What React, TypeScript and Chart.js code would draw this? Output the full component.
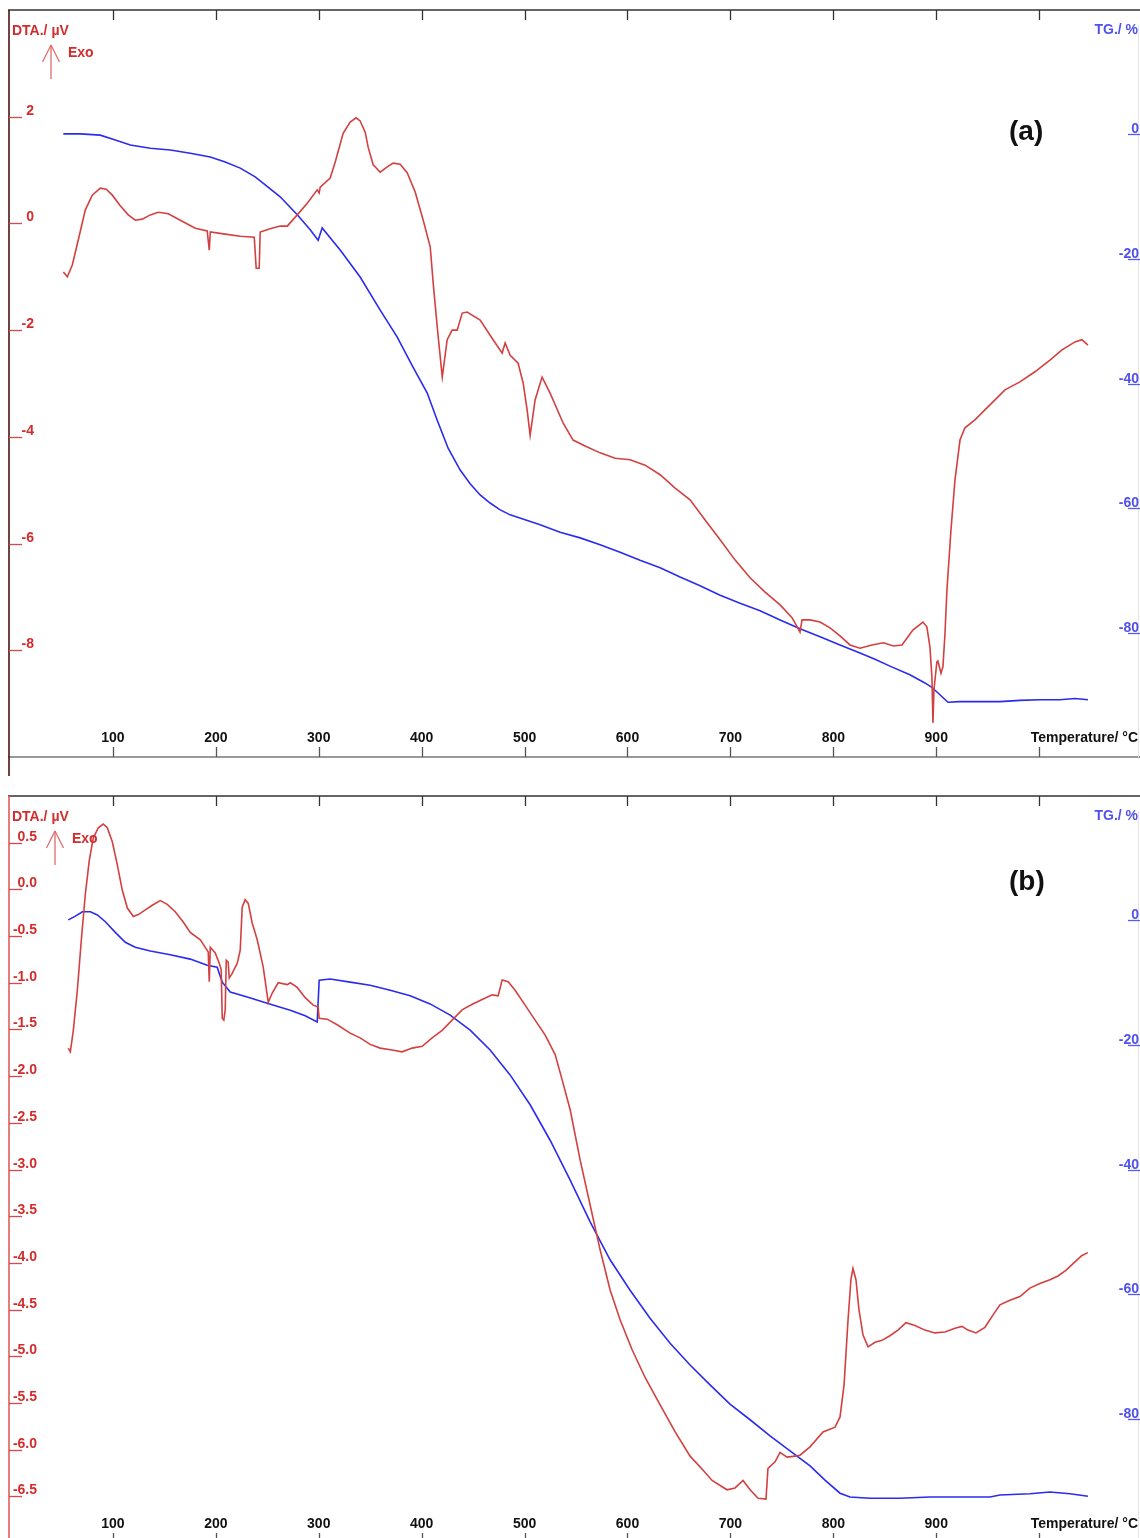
import React, { useEffect, useRef } from "react";
import { Chart, registerables } from "chart.js";

Chart.register(...registerables);

// ---------- tick labels ----------
const tempTicks = [100, 200, 300, 400, 500, 600, 700, 800, 900, 1000];
const dtaTicksA = [2, 0, -2, -4, -6, -8];
const dtaTicksB = [0.5, 0, -0.5, -1, -1.5, -2, -2.5, -3, -3.5, -4, -4.5, -5, -5.5, -6, -6.5];
const tgTicks = [0, -20, -40, -60, -80];

// ---------- panel (a) ----------
const dtaTempA = [51.8, 55.7, 60.5, 66.3, 73.1, 79.9, 87.7, 93.5, 99.4, 107.1, 114.9, 121.7, 128.5, 136.3, 144.1, 153.8, 165.4, 180.0, 191.6, 193.6, 194.6, 209.1, 223.7, 237.3, 239.2, 242.1, 243.1, 252.8, 262.5, 269.4, 279.1, 288.8, 298.5, 300.4, 301.4, 311.1, 316.0, 323.7, 330.5, 336.3, 340.2, 345.1, 348.0, 352.9, 359.7, 366.5, 372.3, 379.1, 385.9, 393.7, 401.5, 408.3, 411.2, 415.1, 420.0, 424.8, 429.6, 434.5, 439.4, 444.2, 456.8, 469.4, 478.2, 481.1, 486.0, 493.7, 498.6, 502.5, 505.4, 510.2, 517.0, 524.8, 537.4, 547.1, 558.8, 573.4, 588.0, 602.5, 617.1, 631.7, 646.3, 660.8, 675.4, 690.0, 704.6, 719.1, 733.7, 748.3, 759.9, 767.6, 769.6, 777.4, 787.1, 796.8, 806.5, 816.2, 825.9, 837.6, 848.8, 858.3, 866.7, 877.3, 887.1, 890.9, 893.9, 895.8, 896.8, 897.8, 900.6, 901.6, 904.6, 906.5, 908.5, 910.4, 914.3, 918.2, 923.1, 927.9, 937.6, 952.2, 966.8, 981.3, 995.9, 1010.5, 1022.2, 1034.8, 1041.6, 1047.4];
const dtaA = [-0.91, -1.00, -0.78, -0.31, 0.25, 0.53, 0.66, 0.64, 0.53, 0.33, 0.16, 0.06, 0.08, 0.16, 0.21, 0.18, 0.06, -0.09, -0.14, -0.50, -0.16, -0.20, -0.24, -0.26, -0.84, -0.84, -0.16, -0.10, -0.05, -0.05, 0.16, 0.38, 0.63, 0.57, 0.68, 0.85, 1.15, 1.69, 1.90, 1.98, 1.92, 1.71, 1.43, 1.10, 0.96, 1.06, 1.13, 1.11, 0.95, 0.59, 0.06, -0.44, -1.12, -1.94, -2.88, -2.18, -2.00, -2.00, -1.68, -1.66, -1.81, -2.18, -2.43, -2.24, -2.47, -2.62, -2.99, -3.50, -3.97, -3.31, -2.88, -3.18, -3.74, -4.06, -4.17, -4.30, -4.40, -4.43, -4.53, -4.71, -4.96, -5.18, -5.56, -5.93, -6.31, -6.64, -6.91, -7.15, -7.39, -7.66, -7.43, -7.43, -7.47, -7.58, -7.73, -7.90, -7.96, -7.90, -7.86, -7.92, -7.90, -7.62, -7.47, -7.56, -7.94, -8.50, -9.36, -8.74, -8.22, -8.20, -8.43, -8.31, -7.68, -6.87, -5.75, -4.81, -4.06, -3.83, -3.68, -3.40, -3.12, -2.97, -2.78, -2.56, -2.37, -2.22, -2.18, -2.28];
const tgTempA = [51.8, 68.3, 87.7, 102.3, 116.9, 136.3, 155.7, 175.2, 194.6, 209.1, 223.7, 238.2, 248.0, 262.5, 279.1, 291.7, 299.4, 303.3, 321.0, 340.2, 359.7, 376.1, 391.7, 405.3, 415.1, 425.7, 437.4, 447.1, 456.8, 466.5, 476.3, 486.0, 500.5, 515.1, 534.5, 554.0, 573.4, 592.8, 612.2, 631.7, 651.1, 670.5, 690.0, 709.4, 728.8, 748.3, 767.6, 787.1, 806.5, 825.9, 840.5, 855.0, 874.4, 889.0, 895.8, 903.6, 911.4, 923.1, 942.5, 961.9, 981.3, 1000.7, 1020.2, 1034.8, 1047.4];
const tgA = [0.1, 0.1, -0.1, -0.9, -1.7, -2.2, -2.5, -3.0, -3.6, -4.4, -5.4, -6.8, -8.1, -10.0, -12.9, -15.3, -17.0, -15.0, -18.6, -22.9, -28.2, -32.5, -37.4, -41.5, -45.9, -50.4, -53.9, -56.1, -57.9, -59.2, -60.3, -61.1, -61.9, -62.7, -63.9, -64.8, -65.9, -67.1, -68.4, -69.6, -71.1, -72.5, -74.0, -75.3, -76.5, -78.0, -79.4, -80.7, -82.0, -83.3, -84.3, -85.4, -86.8, -88.1, -88.8, -90.0, -91.2, -91.1, -91.1, -91.1, -90.9, -90.8, -90.8, -90.6, -90.8];

// ---------- panel (b) ----------
const dtaTempB = [56.6, 58.6, 61.5, 65.4, 69.3, 73.1, 77.0, 80.9, 85.8, 90.6, 94.5, 99.4, 104.3, 109.1, 114.0, 119.8, 124.6, 131.5, 138.2, 146.0, 152.8, 160.5, 168.3, 175.1, 184.9, 192.6, 193.6, 194.6, 199.4, 203.3, 205.2, 206.2, 207.7, 209.1, 210.1, 212.0, 213.0, 215.9, 220.8, 223.7, 225.6, 228.5, 231.5, 235.3, 240.2, 246.0, 250.9, 254.8, 260.6, 269.4, 272.3, 279.1, 286.8, 294.6, 299.4, 300.4, 308.2, 317.9, 330.5, 340.2, 349.9, 359.7, 371.3, 381.0, 390.7, 400.5, 410.2, 419.9, 429.6, 439.3, 449.1, 458.8, 468.5, 474.3, 478.2, 484.0, 490.8, 500.5, 510.2, 520.0, 529.7, 536.5, 544.3, 554.0, 563.7, 573.4, 583.1, 592.8, 604.5, 617.2, 631.7, 646.3, 660.8, 673.5, 682.2, 696.7, 704.5, 712.3, 719.1, 726.9, 734.6, 736.5, 743.4, 748.2, 755.0, 762.8, 767.6, 777.4, 790.0, 801.7, 806.5, 810.4, 814.3, 817.1, 819.1, 822.0, 824.9, 828.8, 833.7, 840.5, 847.3, 855.0, 862.8, 870.6, 879.3, 889.0, 898.7, 908.5, 918.2, 925.0, 930.8, 938.6, 947.3, 955.1, 961.9, 971.6, 981.3, 991.0, 1000.7, 1010.5, 1018.3, 1026.0, 1034.8, 1041.6, 1047.4];
const dtaB = [-1.70, -1.74, -1.51, -1.08, -0.54, -0.06, 0.31, 0.55, 0.66, 0.70, 0.66, 0.51, 0.26, -0.01, -0.20, -0.29, -0.27, -0.22, -0.17, -0.12, -0.16, -0.24, -0.35, -0.46, -0.54, -0.67, -0.99, -0.62, -0.68, -0.79, -0.86, -1.38, -1.40, -1.29, -0.76, -0.78, -0.95, -0.90, -0.79, -0.65, -0.19, -0.11, -0.15, -0.36, -0.54, -0.83, -1.21, -1.11, -1.00, -1.02, -1.00, -1.05, -1.16, -1.24, -1.26, -1.38, -1.39, -1.45, -1.54, -1.59, -1.66, -1.70, -1.72, -1.74, -1.70, -1.68, -1.59, -1.51, -1.40, -1.29, -1.23, -1.18, -1.13, -1.14, -0.97, -0.99, -1.08, -1.24, -1.40, -1.56, -1.77, -2.04, -2.36, -2.90, -3.38, -3.86, -4.29, -4.61, -4.93, -5.23, -5.52, -5.81, -6.07, -6.22, -6.33, -6.43, -6.41, -6.33, -6.43, -6.52, -6.53, -6.20, -6.13, -6.03, -6.08, -6.07, -6.06, -5.97, -5.81, -5.76, -5.65, -5.31, -4.61, -4.18, -4.06, -4.18, -4.50, -4.77, -4.90, -4.85, -4.83, -4.78, -4.72, -4.64, -4.67, -4.72, -4.75, -4.74, -4.70, -4.68, -4.72, -4.75, -4.69, -4.56, -4.45, -4.40, -4.36, -4.27, -4.22, -4.18, -4.14, -4.08, -3.99, -3.92, -3.89];
const tgTempB = [56.6, 63.5, 70.3, 78.1, 84.9, 92.6, 102.3, 112.0, 121.7, 136.3, 155.7, 175.1, 191.6, 201.3, 206.2, 214.0, 230.5, 249.9, 272.3, 286.8, 298.5, 300.4, 311.1, 330.5, 349.9, 369.4, 388.8, 408.2, 427.7, 447.1, 466.5, 485.9, 505.4, 524.8, 544.3, 563.7, 583.1, 602.5, 621.9, 641.4, 660.8, 680.2, 699.6, 719.1, 738.5, 757.9, 777.4, 791.9, 806.5, 816.2, 835.6, 864.7, 893.9, 923.0, 952.2, 961.9, 991.0, 1010.5, 1029.9, 1047.4];
const tgB = [0.1, 0.7, 1.4, 1.4, 0.9, -0.2, -1.9, -3.5, -4.3, -4.9, -5.5, -6.2, -7.2, -7.5, -9.9, -11.5, -12.3, -13.3, -14.4, -15.3, -16.3, -9.6, -9.4, -9.9, -10.4, -11.2, -12.1, -13.4, -15.2, -17.6, -20.8, -24.8, -29.6, -35.3, -41.7, -48.4, -54.5, -59.4, -63.9, -67.9, -71.4, -74.6, -77.7, -80.2, -82.8, -85.2, -87.6, -89.9, -92.0, -92.6, -92.8, -92.8, -92.6, -92.6, -92.6, -92.3, -92.1, -91.8, -92.1, -92.5];

const FONT = '"Liberation Sans", Arial, Helvetica, sans-serif';
const RED_LINE = "#d44040";
const BLUE_LINE = "#2b2bf0";
const RED_TEXT = "#d42c2c";
const BLUE_TEXT = "#5050ee";

type PanelCfg = {
  top: number;
  height: number;
  padTop: number;
  padBottom: number;
  dtaMin: number;
  dtaMax: number;
  dtaTicks: number[];
  decimals: number;
  dtaT: number[];
  dta: number[];
  tgT: number[];
  tg: number[];
  tag: string;
  tagY: number;
  leftAxisColor: string;
  leftAxisEnd: number;
  labelRight: number;
  arrowX: number;
  exoX: number;
};

function pts(xs: number[], ys: number[]) {
  return xs.map((x, i) => ({ x, y: ys[i] }));
}

function makeAxesPlugin(cfg: PanelCfg) {
  return {
    id: "dtaTgAxes",
    afterDatasetsDraw(chart: any) {
      const c: CanvasRenderingContext2D = chart.ctx;
      const a = chart.chartArea;
      const xs = chart.scales.x;
      const ys = chart.scales.y;
      const ys2 = chart.scales.y2;
      const seg = (x1: number, y1: number, x2: number, y2: number) => {
        c.beginPath();
        c.moveTo(x1, y1);
        c.lineTo(x2, y2);
        c.stroke();
      };
      c.save();
      // frame top and bottom axis
      c.strokeStyle = "#333";
      c.lineWidth = 1.5;
      seg(a.left - 1, a.top, a.right, a.top);
      c.strokeStyle = "#777";
      seg(a.left - 1, a.bottom, a.right, a.bottom);
      // temperature ticks
      c.lineWidth = 1.3;
      for (const t of tempTicks) {
        const px = Math.round(xs.getPixelForValue(t)) + 0.5;
        c.strokeStyle = "#333";
        seg(px, a.top, px, a.top + 10);
        c.strokeStyle = "#555";
        seg(px, a.bottom - 10, px, a.bottom);
      }
      c.fillStyle = "#111";
      c.font = `bold 14px ${FONT}`;
      c.textBaseline = "alphabetic";
      c.textAlign = "center";
      for (const t of tempTicks) {
        if (t >= 1000) continue;
        c.fillText(String(t), xs.getPixelForValue(t), a.bottom - 15);
      }
      c.textAlign = "right";
      c.fillText("Temperature/ \u00b0C", a.right - 2, a.bottom - 15);

      // left DTA axis
      c.strokeStyle = cfg.leftAxisColor;
      c.lineWidth = 1.6;
      seg(a.left, a.top, a.left, cfg.leftAxisEnd);
      c.strokeStyle = "#d84848";
      c.lineWidth = 1.3;
      c.fillStyle = RED_TEXT;
      c.textAlign = "right";
      for (const v of cfg.dtaTicks) {
        const py = Math.round(ys.getPixelForValue(v)) + 0.5;
        seg(a.left, py, a.left + 13, py);
        c.fillText(v.toFixed(cfg.decimals), cfg.labelRight, py - 3);
      }

      // right TG axis
      c.strokeStyle = "#e6e6e6";
      c.lineWidth = 1;
      seg(a.right - 1.5, a.top + 16, a.right - 1.5, a.bottom);
      c.strokeStyle = "#5a5af0";
      c.lineWidth = 1.3;
      c.fillStyle = BLUE_TEXT;
      c.textAlign = "right";
      for (const g of tgTicks) {
        const py = Math.round(ys2.getPixelForValue(g)) + 0.5;
        seg(a.right - 12, py, a.right, py);
        c.fillText(String(g), a.right - 1, py - 2);
      }

      // axis titles
      c.textAlign = "left";
      c.fillStyle = RED_TEXT;
      c.fillText("DTA./ \u00b5V", 12, a.top + 25);
      c.textAlign = "right";
      c.fillStyle = BLUE_TEXT;
      c.fillText("TG./ %", a.right - 2, a.top + 24);

      // Exo arrow
      c.strokeStyle = "#e06a6a";
      c.lineWidth = 1.3;
      const ax = cfg.arrowX;
      seg(ax, a.top + 35, ax, a.top + 69);
      seg(ax - 8.5, a.top + 52, ax, a.top + 35);
      seg(ax + 8.5, a.top + 52, ax, a.top + 35);
      c.textAlign = "left";
      c.fillStyle = RED_TEXT;
      c.fillText("Exo", cfg.exoX, a.top + 47);

      // panel tag
      c.fillStyle = "#111";
      c.font = `bold 28px ${FONT}`;
      c.fillText(cfg.tag, 1009, cfg.tagY);
      c.restore();
    },
  };
}

function Panel({ cfg }: { cfg: PanelCfg }) {
  const ref = useRef<HTMLCanvasElement | null>(null);
  useEffect(() => {
    if (!ref.current) return;
    const chart = new Chart(ref.current, {
      type: "line",
      data: {
        datasets: [
          {
            label: "DTA",
            data: pts(cfg.dtaT, cfg.dta),
            yAxisID: "y",
            borderColor: RED_LINE,
            borderWidth: 1.6,
            pointRadius: 0,
            tension: 0,
            fill: false,
          },
          {
            label: "TG",
            data: pts(cfg.tgT, cfg.tg),
            yAxisID: "y2",
            borderColor: BLUE_LINE,
            borderWidth: 1.6,
            pointRadius: 0,
            tension: 0,
            fill: false,
          },
        ],
      },
      options: {
        animation: false,
        responsive: false,
        devicePixelRatio: 1,
        layout: { padding: { left: 9, right: 0, top: cfg.padTop, bottom: cfg.padBottom } },
        plugins: { legend: { display: false }, tooltip: { enabled: false } },
        events: [],
        scales: {
          x: { type: "linear", min: -1, max: 1098, display: false },
          y: { type: "linear", min: cfg.dtaMin, max: cfg.dtaMax, display: false },
          y2: { type: "linear", min: -100, max: 20, display: false },
        },
      },
      plugins: [makeAxesPlugin(cfg)],
    } as any);
    return () => chart.destroy();
  }, [cfg]);
  return (
    <canvas
      ref={ref}
      width={1140}
      height={cfg.height}
      style={{ position: "absolute", left: 0, top: cfg.top, width: 1140, height: cfg.height }}
    />
  );
}

const panelA: PanelCfg = {
  top: 0,
  height: 785,
  padTop: 10,
  padBottom: 28,
  dtaMin: -10,
  dtaMax: 4,
  dtaTicks: dtaTicksA,
  decimals: 0,
  dtaT: dtaTempA,
  dta: dtaA,
  tgT: tgTempA,
  tg: tgA,
  tag: "(a)",
  tagY: 140,
  leftAxisColor: "#4d1414",
  leftAxisEnd: 776,
  labelRight: 34,
  arrowX: 51,
  exoX: 68,
};

const panelB: PanelCfg = {
  top: 785,
  height: 765,
  padTop: 11,
  padBottom: 7,
  dtaMin: -7,
  dtaMax: 1,
  dtaTicks: dtaTicksB,
  decimals: 1,
  dtaT: dtaTempB,
  dta: dtaB,
  tgT: tgTempB,
  tg: tgB,
  tag: "(b)",
  tagY: 105,
  leftAxisColor: "#e05c5c",
  leftAxisEnd: 765,
  labelRight: 37,
  arrowX: 55,
  exoX: 72,
};

export default function App() {
  return (
    <div
      style={{
        position: "absolute",
        left: 0,
        top: 0,
        width: 1140,
        height: 1538,
        overflow: "hidden",
        background: "#ffffff",
      }}
    >
      <Panel cfg={panelA} />
      <Panel cfg={panelB} />
    </div>
  );
}
